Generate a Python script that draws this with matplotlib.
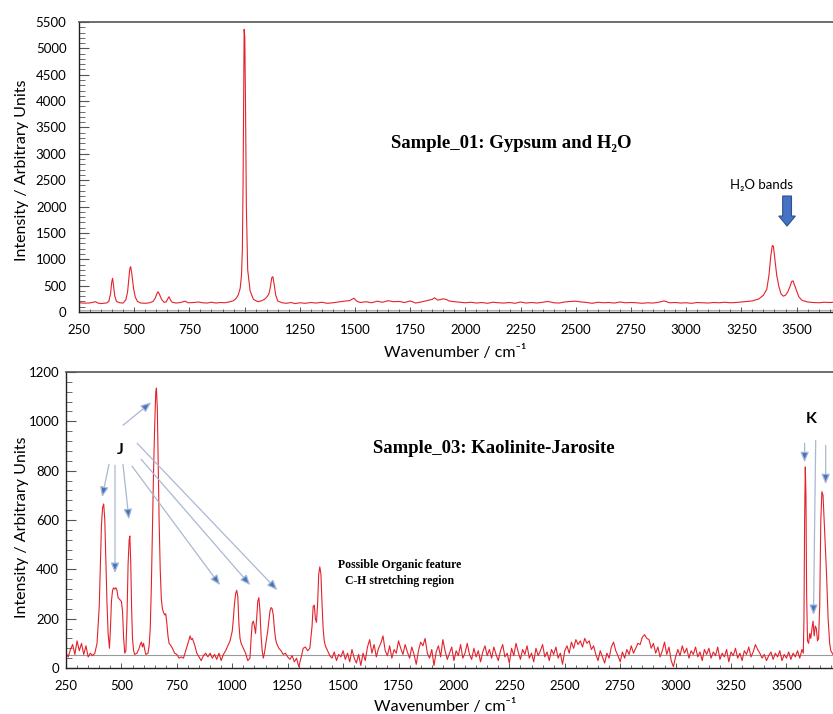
import matplotlib
matplotlib.use("Agg")
import matplotlib.pyplot as plt
from matplotlib.ticker import MultipleLocator

SANS = ["Lato", "DejaVu Sans"]
SERIF = ["Liberation Serif", "DejaVu Serif"]
plt.rcParams["font.family"] = SANS

LINE_RED = "#e4222c"

# Sample_01: gypsum + water spectrum
gyp_wn = [250, 275, 300, 315, 325, 335, 350, 375, 385, 393, 398, 402, 406, 412, 420, 435,
          450, 462, 470, 475, 480, 484, 490, 497, 505, 515, 530, 550, 570, 585, 595, 602,
          608, 615, 624, 635, 645, 652, 658, 664, 672, 690, 710, 730, 745, 770, 790, 810,
          830, 850, 870, 890, 910, 930, 950, 962, 972, 980, 986, 990, 993, 996, 998, 1001,
          1004, 1008, 1014, 1025, 1040, 1060, 1075, 1090, 1102, 1110, 1117, 1123, 1128,
          1134, 1141, 1150, 1170, 1190, 1210, 1230, 1250, 1275, 1300, 1325, 1350, 1375,
          1400, 1425, 1450, 1475, 1495, 1510, 1525, 1550, 1575, 1600, 1625, 1650, 1675,
          1700, 1725, 1750, 1775, 1800, 1825, 1850, 1860, 1875, 1900, 1915, 1925, 1950,
          1975, 2000, 2025, 2050, 2075, 2100, 2125, 2150, 2175, 2200, 2225, 2250, 2275,
          2300, 2325, 2350, 2375, 2400, 2425, 2450, 2475, 2500, 2525, 2550, 2575, 2600,
          2625, 2650, 2675, 2700, 2725, 2750, 2775, 2800, 2825, 2850, 2875, 2900, 2925,
          2950, 2975, 3000, 3025, 3050, 3075, 3100, 3125, 3150, 3175, 3200, 3225, 3250,
          3275, 3300, 3330, 3350, 3365, 3375, 3383, 3390, 3395, 3402, 3410, 3420, 3430,
          3440, 3450, 3460, 3470, 3478, 3484, 3490, 3500, 3510, 3525, 3550, 3575, 3600,
          3625, 3650, 3665]
gyp_int = [175, 168, 172, 185, 195, 170, 160, 172, 200, 350, 560, 640, 520, 300, 200, 175,
           170, 230, 380, 600, 820, 860, 700, 450, 280, 200, 170, 165, 175, 200, 260, 340,
           385, 330, 240, 185, 190, 250, 290, 230, 185, 170, 180, 205, 175, 180, 190, 175,
           170, 185, 170, 180, 175, 190, 215, 260, 330, 450, 700, 1200, 2400, 4200, 5360, 5200,
           4000, 2000, 800, 400, 240, 195, 210, 240, 290, 340, 480, 650, 670,
           520, 320, 210, 175, 165, 180, 160, 175, 165, 180, 170, 185, 165,
           175, 190, 205, 215, 260, 200, 180, 195, 175, 205, 185, 215, 195,
           200, 180, 210, 170, 190, 215, 240, 270, 225, 250, 235, 210, 195,
           185, 175, 185, 170, 180, 165, 185, 175, 170, 180, 165, 190, 170,
           180, 170, 185, 200, 175, 170, 190, 200, 205, 190, 180, 165, 185,
           175, 180, 170, 190, 175, 180, 175, 165, 175, 170, 185, 210, 175,
           180, 170, 175, 165, 180, 175, 170, 180, 175, 185, 175, 180, 190,
           200, 210, 250, 320, 430, 700, 1050, 1260, 1250, 1000, 700, 480, 340,
           300, 320, 380, 480, 580, 590, 520, 400, 290, 220, 190, 180, 175,
           185, 180, 185]

# Sample_03: kaolinite-jarosite spectrum
kj_wn = [250, 260, 270, 280, 290, 300, 310, 320, 330, 340, 350, 360, 370, 380, 390, 400,
         405, 410, 415, 420, 425, 430, 435, 440, 446, 450, 455, 460, 465, 470, 475, 480,
         485, 490, 495, 500, 505, 510, 515, 520, 525, 530, 535, 538, 542, 546, 550, 555,
         560, 570, 580, 585, 590, 595, 600, 605, 610, 620, 625, 630, 635, 640, 645, 650,
         655, 658, 662, 666, 670, 675, 680, 685, 690, 695, 700, 705, 710, 715, 720, 730,
         740, 750, 760, 770, 780, 790, 800, 810, 815, 820, 830, 840, 850, 860, 870, 880,
         890, 900, 910, 920, 930, 940, 950, 960, 970, 980, 990, 1000, 1005, 1010, 1015,
         1020, 1025, 1030, 1035, 1040, 1050, 1060, 1070, 1080, 1085, 1090, 1095, 1100,
         1105, 1110, 1115, 1120, 1125, 1130, 1135, 1140, 1145, 1150, 1160, 1170, 1175,
         1180, 1185, 1190, 1195, 1200, 1210, 1220, 1230, 1240, 1250, 1260, 1270, 1280,
         1290, 1300, 1310, 1320, 1330, 1340, 1350, 1360, 1365, 1370, 1375, 1380, 1385,
         1390, 1395, 1400, 1405, 1410, 1415, 1420, 1430, 1440, 1450, 1460, 1470, 1480,
         1490, 1500, 1510, 1520, 1530, 1540, 1550, 1560, 1570, 1580, 1590, 1600, 1610,
         1620, 1630, 1640, 1650, 1660, 1670, 1680, 1690, 1700, 1710, 1720, 1730, 1740,
         1750, 1760, 1770, 1780, 1790, 1800, 1810, 1820, 1830, 1840, 1850, 1860, 1870,
         1880, 1890, 1900, 1910, 1920, 1930, 1940, 1950, 1960, 1970, 1980, 1990, 2000,
         2010, 2020, 2030, 2040, 2050, 2060, 2070, 2080, 2090, 2100, 2110, 2120, 2130,
         2140, 2150, 2160, 2170, 2180, 2190, 2200, 2210, 2220, 2230, 2240, 2250, 2260,
         2270, 2280, 2290, 2300, 2310, 2320, 2330, 2340, 2350, 2360, 2370, 2380, 2390,
         2400, 2410, 2420, 2430, 2440, 2450, 2460, 2470, 2480, 2490, 2500, 2510, 2520,
         2530, 2540, 2550, 2560, 2570, 2580, 2590, 2600, 2610, 2620, 2630, 2640, 2650,
         2660, 2670, 2680, 2690, 2700, 2710, 2720, 2730, 2740, 2750, 2760, 2770, 2780,
         2790, 2800, 2810, 2820, 2830, 2840, 2850, 2860, 2870, 2880, 2890, 2900, 2910,
         2920, 2930, 2940, 2950, 2960, 2970, 2980, 2990, 3000, 3010, 3020, 3030, 3040,
         3050, 3060, 3070, 3080, 3090, 3100, 3110, 3120, 3130, 3140, 3150, 3160, 3170,
         3180, 3190, 3200, 3210, 3220, 3230, 3240, 3250, 3260, 3270, 3280, 3290, 3300,
         3310, 3320, 3330, 3340, 3350, 3360, 3370, 3380, 3390, 3400, 3410, 3420, 3430,
         3440, 3450, 3460, 3470, 3480, 3490, 3500, 3510, 3520, 3530, 3540, 3550, 3560,
         3570, 3576, 3579, 3582, 3585, 3588, 3591, 3595, 3600, 3605, 3610, 3615, 3620,
         3625, 3630, 3635, 3640, 3645, 3650, 3655, 3660, 3665, 3670, 3680, 3688, 3695,
         3700, 3710]
kj_int = [60, 45, 75, 95, 55, 110, 70, 100, 55, 90, 45, 60, 50, 60, 100, 250,
          420, 580, 650, 665, 600, 430, 260, 140, 80, 150, 270, 315, 325, 320, 325, 315,
          285, 280, 275, 270, 230, 120, 60, 70, 200, 420, 520, 535, 430, 240, 120, 70,
          55, 60, 80, 95, 105, 85, 100, 75, 55, 60, 90, 160, 330, 560, 800, 980,
          1120, 1135, 1050, 820, 600, 400, 280, 240, 225, 215, 220, 180, 130, 100, 95, 80,
          60, 55, 40, 45, 40, 70, 100, 130, 115, 120, 95, 60, 45, 30, 50, 60,
          45, 60, 40, 55, 35, 60, 30, 55, 70, 90, 110, 150, 200, 260, 300,
          315, 290, 180, 120, 100, 80, 60, 30, 40, 120, 180, 190, 170,
          140, 200, 270, 285, 230, 130, 70, 40, 60, 90, 150, 230, 245,
          240, 215, 160, 120, 100, 80, 70, 55, 60, 45, 35, 50, 25,
          40, 5, 40, 80, 85, 70, 80, 170, 250, 255, 200, 185, 260,
          380, 410, 380, 260, 160, 110, 90, 70, 50, 40, 65, 30, 55,
          45, 70, 35, 60, 25, 75, 40, 20, 55, 10, 60, 30, 85,
          115, 60, 95, 45, 80, 100, 130, 70, 50, 90, 40, 75, 60,
          110, 80, 55, 95, 65, 40, 85, 55, 15, 70, 105, 90, 120,
          60, 40, 75, 10, 65, 90, 45, 115, 70, 35, 60, 85, 30,
          70, 50, 95, 40, 60, 100, 55, 35, 80, 45, 70, 25, 65,
          90, 50, 75, 40, 85, 55, 30, 70, 95, 45, 60, 20, 80,
          50, 100, 65, 35, 75, 55, 90, 40, 60, 25, 80, 50, 70,
          95, 45, 65, 30, 75, 55, 85, 40, 60, 15, 70, 90, 60,
          105, 80, 115, 95, 110, 85, 120, 100, 110, 75, 90, 55, 30,
          70, 45, 20, 60, 40, 85, 105, 70, 50, 25, 65, 40, 75,
          55, 90, 60, 80, 100, 95, 125, 135, 120, 115, 80, 100, 60,
          85, 45, 70, 105, 55, 85, 30, 5, 45, 75, 50, 90, 60,
          80, 40, 70, 55, 85, 45, 65, 30, 75, 55, 80, 40, 65,
          50, 85, 35, 60, 45, 75, 25, 65, 50, 80, 40, 60, 30,
          70, 55, 85, 45, 65, 95, 75, 60, 40, 55, 30, 50, 65,
          35, 60, 45, 70, 30, 55, 40, 65, 35, 60, 45, 70, 40,
          75, 60, 200, 600, 815, 700, 300, 110, 100, 140, 120, 160, 190,
          130, 170, 160, 110, 120, 250, 600, 715, 700, 600, 400, 200, 100,
          70, 55]

# baselines drawn under each trace
gyp_base = 45
kj_base = 53

W, H = 833, 714
fig = plt.figure(figsize=(W / 100, H / 100), dpi=100)


def add_axes_px(left, top, right, bottom):
    return fig.add_axes([left / W, 1 - bottom / H, (right - left) / W, (bottom - top) / H])


def style_axes(ax, xlim, ylim, ymajor, yminor, ypad):
    ax.set_xlim(*xlim)
    ax.set_ylim(*ylim)
    ax.xaxis.set_major_locator(MultipleLocator(250))
    ax.xaxis.set_minor_locator(MultipleLocator(50))
    ax.yaxis.set_major_locator(MultipleLocator(ymajor))
    ax.yaxis.set_minor_locator(MultipleLocator(yminor))
    ax.spines["right"].set_visible(False)
    ax.spines["top"].set_color("#555555")
    ax.spines["top"].set_linewidth(1.2)
    for s in ("left", "bottom"):
        ax.spines[s].set_color("#222222")
        ax.spines[s].set_linewidth(1.0)
    ax.tick_params(axis="y", which="major", direction="in", length=7, width=0.8,
                   color="#555555", labelsize=9.5, pad=ypad)
    ax.tick_params(axis="y", which="minor", direction="in", length=4, width=0.6,
                   color="#555555")
    ax.tick_params(axis="x", which="major", direction="in", length=3.5, width=0.7,
                   color="#555555", labelsize=9.5, pad=9)
    ax.tick_params(axis="x", which="minor", direction="in", length=2.5, width=0.6,
                   color="#555555")


# --- top panel: gypsum ---
ax1 = add_axes_px(79, 22, 833, 312)
ax1.axhline(gyp_base, color="#b0b0b0", lw=0.8, zorder=1)
ax1.plot(gyp_wn, gyp_int, color=LINE_RED, lw=0.8, zorder=2)
style_axes(ax1, (250, 3665), (0, 5500), 500, 100, 9)

ax1.text(2206, 3190, "Sample_01: Gypsum and H₂O", family=SERIF, fontweight="bold",
         fontsize=13.5, ha="center", va="center")
ax1.text(3343, 2410, "H₂O bands", fontsize=9.5, ha="center", va="center")
ax1.arrow(3457, 2200, 0, -570, width=40, head_width=75, head_length=190,
          length_includes_head=True, fc="#4472c4", ec="#2f528f", lw=0.8)

# --- bottom panel: kaolinite-jarosite ---
ax2 = add_axes_px(66, 372, 833, 668)
ax2.axhline(kj_base, color="#9a9a9a", lw=0.8, zorder=1)
ax2.plot(kj_wn, kj_int, color=LINE_RED, lw=0.8, zorder=2)
style_axes(ax2, (250, 3710), (0, 1200), 200, 40, 5)

ax2.text(2180, 890, "Sample_03: Kaolinite-Jarosite", family=SERIF, fontweight="bold",
         fontsize=13.5, ha="center", va="center")
ax2.text(1756, 385, "Possible Organic feature\nC-H stretching region", family=SERIF,
         fontweight="bold", fontsize=8.5, ha="center", va="center", linespacing=1.35)

# jarosite (J) and kaolinite (K) band markers
ax2.text(494, 883, "J", fontweight="bold", fontsize=11.5, ha="center", va="center")
ax2.text(3613, 1008, "K", fontweight="bold", fontsize=11.5, ha="center", va="center")

j_arrows = [((507, 984), (634, 1077)), ((444, 826), (413, 693)), ((471, 822), (471, 385)),
            ((507, 826), (534, 603)), ((548, 818), (945, 336)), ((589, 846), (1081, 336)),
            ((571, 911), (1203, 316))]
k_arrows = [((3582, 911), (3582, 834)), ((3632, 923), (3622, 215)), ((3677, 903), (3677, 745))]
for start, end in j_arrows + k_arrows:
    ax2.annotate("", xy=end, xytext=start,
                 arrowprops=dict(arrowstyle="-|>,head_length=0.6,head_width=0.25",
                                 ec="#a9b8d2", fc="#4472c4", lw=0.9,
                                 shrinkA=0, shrinkB=0))

# axis titles
for yc, xc, yl in ((170, 455, 353), (527, 445, 706)):
    fig.text(22 / W, 1 - yc / H, "Intensity / Arbitrary Units", rotation=90,
             ha="center", va="center", fontsize=11.5)
    fig.text(xc / W, 1 - yl / H, "Wavenumber / cm⁻¹", ha="center", va="center",
             fontsize=11.5)

fig.savefig("out.png", dpi=100)
